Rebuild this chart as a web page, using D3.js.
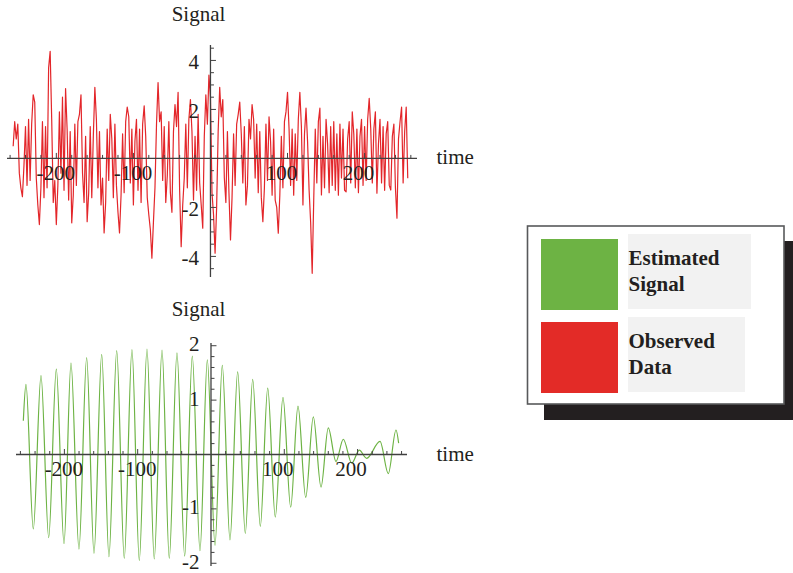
<!DOCTYPE html>
<html>
<head>
<meta charset="utf-8">
<script src="https://cdn.jsdelivr.net/npm/d3@7/dist/d3.min.js"></script>
<style>
  html, body { margin: 0; padding: 0; background: #ffffff; }
  svg { display: block; }
  text { font-family: "Liberation Serif", "Times New Roman", serif; fill: #231f20; }
</style>
</head>
<body>
<svg id="chart" width="793" height="573"></svg>
<script>
// ---- data ----------------------------------------------------------------
// observed samples, one every 2 time units from t = -256 to t = 256
const observedStart = -256;
const observedStep = 2;
const observedValues = [
  0.5, 1.5, 0.8, 1.4, -0.6, -1.2, -1.56, -0.3, 1.3, -1.1,
  1.6, -0.9, 1.4, 2.6, 2.3, -0.8, -1.9, -2.7, -1.2, 1.5,
  -1.6, 1.3, -1.2, 3.7, 4.37, 1.6, -1.8, -0.9, -2.7, -1.1,
  1.9, -0.6, 2.5, -1.3, 2.85, 1.2, -1.7, 1.1, -2.63, -1.5,
  1.4, -1.1, 1.5, 1.8, 2.6, -0.6, -1.8, 0.9, -2.58, -1.4,
  1.3, -1.6, 0.9, 2.9, 1.6, -1.2, 1.1, -1.9, -0.8, -3.04,
  -1.8, 1.2, -0.9, 1.8, 0.8, -1.6, 1.4, -1.1, -2.2, -3.04,
  -1.5, 1.0, -1.4, 1.5, 2.1, 1.7, -1.0, 1.2, -1.9, 0.7,
  1.6, -1.3, 1.2, -1.8, 1.4, 2.15, 0.9, -1.6, -2.3, -2.9,
  -4.07, -2.6, -1.2, 1.4, 3.1, 1.5, 1.9, -0.9, 1.3, -1.8,
  -0.7, 1.5, -1.4, -2.2, 1.1, 2.2, 1.3, 2.7, -1.3, -3.6,
  -1.9, -0.8, 1.4, -1.2, 1.6, 2.4, 1.1, -1.7, 0.9, -1.3,
  1.8, -1.0, -1.9, -2.85, 0.9, 2.6, 1.4, 3.4, 2.5, -1.4,
  -2.3, -3.87, -2.0, 1.1, 2.9, 1.7, 2.4, -0.8, -1.8, 1.1,
  -1.4, -3.33, -1.6, 1.0, -1.1, 1.4, 1.8, 2.3, 1.0, -1.0,
  1.3, -1.9, -1.1, 1.6, 0.8, 2.2, 1.6, -0.8, 1.4, -1.4,
  1.1, -1.6, -2.58, -1.2, 1.4, -0.9, 1.7, 0.7, -1.5, 1.2,
  -1.7, -2.0, -3.05, -1.5, 0.9, -1.2, 1.5, 1.9, 2.7, 1.2,
  -1.1, 1.2, -1.5, 1.0, -0.9, 1.6, 2.7, 1.3, -1.9, 1.0,
  2.05, 0.7, -1.3, -2.6, -4.69, -1.7, 1.2, -1.0, 1.5, 2.05,
  -1.49, 0.9, -1.2, 1.6, 0.6, -1.4, 1.3, -1.1, 1.5, -1.3,
  1.0, -1.5, 1.4, -0.8, 1.2, -1.3, -1.36, 0.8, 1.5, -1.0,
  1.9, 1.0, -1.2, 1.2, -1.4, 0.9, 1.6, -1.1, 1.3, -0.9,
  1.6, 2.45, 1.2, -1.0, 1.2, 1.9, -1.42, 0.6, 1.6, -1.0,
  1.3, -1.3, 1.0, 1.5, -1.1, -1.29, 0.9, 1.4, -1.2, -2.44,
  0.8, 1.5, 2.1, -1.0, 1.1, 2.1, -0.81
];

// estimated signal: its turning points (time, value), joined by a smooth monotone curve
const signalTimes = [
  -256, -252.4, -242.4, -231.9, -221.4, -211, -200.5, -191, -180.1, -169.6,
  -159.6, -149.1, -139.2, -128.6, -118.3, -107.8, -97.8, -87.3, -77.4, -66.8,
  -56.9, -46.4, -35.9, -25.5, -15, -5, 5.5, 15.4, 25.9, 36.4,
  46.8, 56.9, 67.3, 77.4, 87.7, 98.2, 108.7, 118.7, 129.2, 139.6,
  150.1, 160, 170.5, 180.5, 192, 202.3, 212.4, 230.6, 241.9, 252.4,
  256
];
const signalValues = [
  0.62, 1.29, -1.37, 1.45, -1.53, 1.57, -1.64, 1.68, -1.74, 1.78,
  -1.82, 1.84, -1.88, 1.91, -1.91, 1.93, -1.95, 1.94, -1.92, 1.92,
  -1.91, 1.87, -1.87, 1.81, -1.77, 1.74, -1.67, 1.64, -1.57, 1.52,
  -1.45, 1.38, -1.32, 1.22, -1.15, 1.05, -0.97, 0.89, -0.79, 0.69,
  -0.60, 0.49, -0.13, 0.28, -0.16, 0.08, -0.07, 0.24, -0.35, 0.45,
  0.21
];

// axis ticks
const timeTicks = d3.range(-260, 261, 20);
const timeLabels = [-200, -100, 100, 200];
const observedTicks = d3.range(-4.5, 4.51, 0.5);
const observedLabels = [-4, -2, 2, 4];
const signalTicks = d3.range(-2, 2.001, 0.2);
const signalLabels = [-2, -1, 1, 2];

const legendItems = [
  { lines: ["Estimated", "Signal"], color: "#6db344" },
  { lines: ["Observed", "Data"], color: "#e32b27" }
];

// ---- drawing ---------------------------------------------------------------
const svg = d3.select("#chart");
svg.append("rect").attr("width", 793).attr("height", 573).attr("fill", "#ffffff");

const axisColor = "#404040";

function drawPanel(cfg) {
  const g = svg.append("g");
  const x0 = cfg.x(0), y0 = cfg.y(0);

  // data line
  g.append("path")
    .datum(cfg.points)
    .attr("fill", "none")
    .attr("stroke", cfg.color)
    .attr("stroke-width", cfg.width)
    .attr("stroke-linejoin", "round")
    .attr("d", d3.line().x(d => cfg.x(d[0])).y(d => cfg.y(d[1])).curve(cfg.curve));

  // axes through the origin
  const [xa, xb] = cfg.x.range();
  const [ya, yb] = cfg.y.range();
  g.append("line").attr("x1", xa).attr("x2", xb).attr("y1", y0).attr("y2", y0)
    .attr("stroke", axisColor).attr("stroke-width", 1.3);
  g.append("line").attr("x1", x0).attr("x2", x0).attr("y1", ya).attr("y2", yb)
    .attr("stroke", axisColor).attr("stroke-width", 1.3);

  // time ticks, pointing up
  g.selectAll(".tx").data(cfg.xTicks.filter(t => t !== 0)).join("line")
    .attr("x1", d => cfg.x(d)).attr("x2", d => cfg.x(d))
    .attr("y1", y0).attr("y2", d => y0 - (d % 100 === 0 ? 5.5 : 3.5))
    .attr("stroke", axisColor).attr("stroke-width", 1);

  // value ticks, pointing right
  g.selectAll(".ty").data(cfg.yTicks.filter(v => Math.abs(v) > 1e-9)).join("line")
    .attr("x1", x0).attr("x2", d => x0 + (cfg.isMajor(d) ? 5.5 : 3.5))
    .attr("y1", d => cfg.y(d)).attr("y2", d => cfg.y(d))
    .attr("stroke", axisColor).attr("stroke-width", 1);

  // tick labels
  g.selectAll(".lx").data(timeLabels).join("text")
    .attr("x", d => cfg.x(d) + (d > 0 ? cfg.posShift : cfg.negShift))
    .attr("y", y0 + 21.5)
    .attr("text-anchor", "middle")
    .attr("font-size", 21)
    .text(d => d < 0 ? "-" + Math.abs(d) : String(d));

  g.selectAll(".ly").data(cfg.yLabels).join("text")
    .attr("x", x0 - 11.5)
    .attr("y", d => cfg.y(d) + cfg.labelDy)
    .attr("text-anchor", "end")
    .attr("font-size", 21)
    .text(d => d < 0 ? "-" + Math.abs(d) : String(d));

  // axis titles
  g.append("text").attr("x", 198.5).attr("y", cfg.titleY)
    .attr("text-anchor", "middle").attr("font-size", 21).text("Signal");
  g.append("text").attr("x", 436.5).attr("y", y0 + 6)
    .attr("font-size", 21).text("time");
}

const observedPoints = observedValues.map((v, i) => [observedStart + i * observedStep, v]);
const signalPoints = signalTimes.map((t, i) => [t, signalValues[i]]);

drawPanel({
  points: observedPoints,
  x: d3.scaleLinear().domain([-264, 268]).range([7, 417]),
  y: d3.scaleLinear().domain([-4.84, 4.63]).range([277, 45]),
  color: "#e3262a", width: 1.2, curve: d3.curveLinear,
  xTicks: timeTicks, yTicks: observedTicks, yLabels: observedLabels,
  isMajor: v => Math.abs(v % 2) < 1e-9,
  posShift: -6, negShift: -0.5, labelDy: 9,
  titleY: 21
});

drawPanel({
  points: signalPoints,
  x: d3.scaleLinear().domain([-266, 267.4]).range([16, 407]),
  y: d3.scaleLinear().domain([-2.05, 2.05]).range([566, 343]),
  color: "#6db344", width: 1.2, curve: d3.curveMonotoneX,
  xTicks: timeTicks, yTicks: signalTicks, yLabels: signalLabels,
  isMajor: v => Math.abs(v - Math.round(v)) < 1e-9,
  posShift: -6.5, negShift: -0.5, labelDy: 5.5,
  titleY: 316
});

// ---- legend ----------------------------------------------------------------
const legend = svg.append("g");
legend.append("rect").attr("x", 544).attr("y", 241).attr("width", 260).attr("height", 179)
  .attr("fill", "#231f20");
legend.append("rect").attr("x", 527.5).attr("y", 226).attr("width", 256.5).attr("height", 178)
  .attr("fill", "#ffffff").attr("stroke", "#58595b").attr("stroke-width", 1.6);

const rowTop = i => 234 + i * 83;

legendItems.forEach((item, i) => {
  const top = rowTop(i);
  legend.append("rect").attr("x", 541).attr("y", top + 5).attr("width", 77).attr("height", 71)
    .attr("fill", item.color);
  legend.append("rect").attr("x", 628).attr("y", top).attr("width", i === 0 ? 123 : 117).attr("height", 75)
    .attr("fill", "#f2f2f2");
  item.lines.forEach((line, j) => {
    legend.append("text").attr("x", 628.5).attr("y", top + 31 + j * 25.7)
      .attr("font-size", 21).attr("font-weight", "bold").text(line);
  });
});
</script>
</body>
</html>
